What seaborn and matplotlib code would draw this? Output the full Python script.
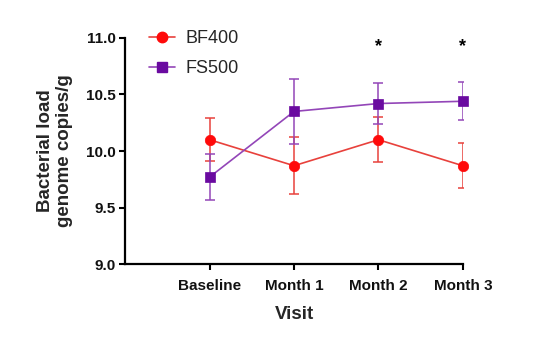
import matplotlib
matplotlib.use("Agg")
import matplotlib.pyplot as plt
from matplotlib.lines import Line2D
import seaborn as sns
import pandas as pd
import numpy as np

visits = ["Baseline", "Month 1", "Month 2", "Month 3"]
bf400_mean = [10.10, 9.87, 10.10, 9.87]
bf400_err = [0.19, 0.25, 0.20, 0.20]
fs500_mean = [9.77, 10.35, 10.42, 10.44]
fs500_err = [0.20, 0.29, 0.185, 0.17]
signif_visits = ["Month 2", "Month 3"]
yticks = [9.0, 9.5, 10.0, 10.5, 11.0]

sns.set_theme(style="ticks")
plt.rcParams["font.family"] = ["Liberation Sans", "DejaVu Sans"]

pos = list(range(len(visits)))
df = pd.DataFrame({
    "pos": pos * 2,
    "value": bf400_mean + fs500_mean,
    "group": ["BF400"] * len(visits) + ["FS500"] * len(visits),
})

line_cols = {"BF400": "#e8413c", "FS500": "#9346b8"}
mark_cols = {"BF400": "#ff0a0a", "FS500": "#6a0aa0"}
markers = {"BF400": "o", "FS500": "s"}

fig = plt.figure(figsize=(5.42, 3.48), dpi=100)
ax = fig.add_axes([0.231, 0.241, 0.623, 0.650])

for g, means, errs in [("BF400", bf400_mean, bf400_err), ("FS500", fs500_mean, fs500_err)]:
    ax.errorbar(pos, means, yerr=errs, fmt="none", ecolor=line_cols[g],
                elinewidth=1.1, capsize=3.5, capthick=1.1, zorder=2)

n_before = len(ax.lines)
sns.lineplot(data=df, x="pos", y="value", hue="group", style="group",
             palette=line_cols, markers=markers, dashes=False, ax=ax,
             linewidth=1.2, markersize=7.5, legend=False, zorder=3)

for ln, g in zip(ax.lines[n_before:], ["BF400", "FS500"]):
    ln.set_markerfacecolor(mark_cols[g])
    ln.set_markeredgecolor(mark_cols[g])
    ln.set_markeredgewidth(0.5)
    ln.set_clip_on(False)

for v in signif_visits:
    ax.text(visits.index(v), 10.92, "*", ha="center", va="center",
            fontsize=13, fontweight="bold", color="black")

ax.set_xlim(-1, 3)
ax.set_ylim(9.0, 11.0)
ax.set_xticks(pos)
ax.set_xticklabels(visits)
ax.set_yticks(yticks)
ax.set_yticklabels([f"{t:.1f}" for t in yticks])
for lbl in ax.get_xticklabels() + ax.get_yticklabels():
    lbl.set_fontweight("bold")
    lbl.set_fontsize(11)
ax.tick_params(axis="both", width=1.5, length=4, color="black", pad=3, labelcolor="#111111")
ax.tick_params(axis="x", pad=7)

for s in ["top", "right"]:
    ax.spines[s].set_visible(False)
for s in ["left", "bottom"]:
    ax.spines[s].set_linewidth(1.6)
    ax.spines[s].set_color("black")

ax.set_xlabel("Visit", fontsize=13.5, fontweight="bold", labelpad=9)
ax.set_ylabel("Bacterial load\ngenome copies/g", fontsize=13.5, fontweight="bold", labelpad=9)

handles = [
    Line2D([], [], color=line_cols["BF400"], marker="o", markersize=7.5,
           markerfacecolor=mark_cols["BF400"], markeredgecolor=mark_cols["BF400"], lw=1.2),
    Line2D([], [], color=line_cols["FS500"], marker="s", markersize=7.5,
           markerfacecolor=mark_cols["FS500"], markeredgecolor=mark_cols["FS500"], lw=1.2),
]
fig.legend(handles, ["BF400", "FS500"], loc="upper left",
           bbox_to_anchor=(0.262, 0.935), frameon=False, fontsize=13,
           handlelength=1.4, handletextpad=0.6, labelspacing=0.75, borderaxespad=0)

fig.savefig("out.png", dpi=100, facecolor="white")
